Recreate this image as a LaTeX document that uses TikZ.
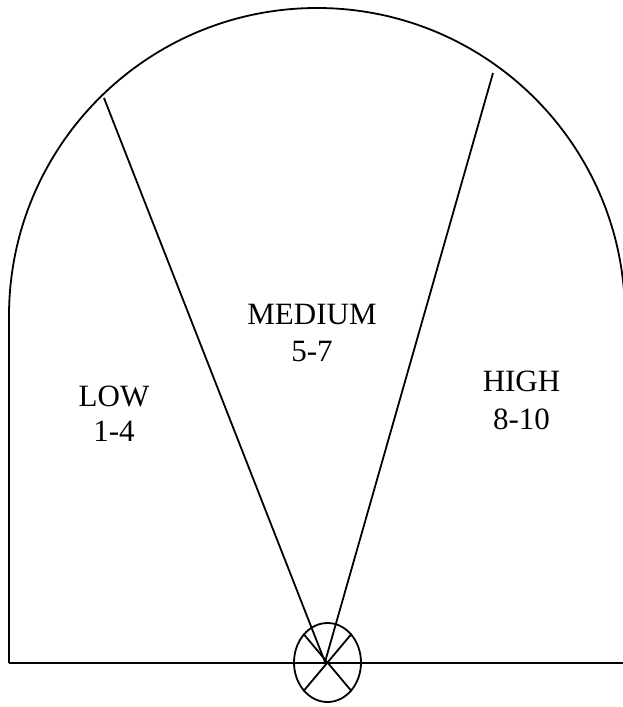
\documentclass[tikz,border=0pt]{standalone}
\usepackage{fontspec}
\setmainfont{Liberation Serif}
\usetikzlibrary{shapes.geometric}
\begin{document}
\begin{tikzpicture}[x=1pt,y=-1pt,
  outline/.style={line width=1.8pt, line join=miter},
  label/.style={anchor=base, inner sep=0pt, font=\fontsize{31}{37}\selectfont}]
\clip (0,0) rectangle (623,707);
\fill[white] (0,0) rectangle (623,707);
% outer arch shape
\coordinate (bl) at (9,663);
\coordinate (br) at (640,663);
\draw[outline] (bl) -- (9,316) arc[start angle=180, end angle=0, radius=308pt] -- (625,663);
\draw[outline] (bl) -- (br);
% fan lines
\coordinate (hub) at (325,662);
\coordinate (lowtop) at (104,98);
\coordinate (hightop) at (493,73);
\draw[outline] (hub) -- (lowtop);
\draw[outline] (hub) -- (hightop);
% dial
\node[draw, ellipse, line width=1.8pt, minimum width=67pt, minimum height=79pt, inner sep=0pt] (dial) at (327.5,662.5) {};
\draw[outline] (dial.50) -- (dial.230);
\draw[outline] (dial.130) -- (dial.310);
% labels
\node[label] (med1) at (312,324) {MEDIUM};
\node[label] (med2) at (312,361.5) {5-7};
\node[label] (low1) at (114,406.5) {LOW};
\node[label] (low2) at (114,441) {1-4};
\node[label] (high1) at (521.5,391) {HIGH};
\node[label] (high2) at (521.5,429) {8-10};
\end{tikzpicture}
\end{document}
